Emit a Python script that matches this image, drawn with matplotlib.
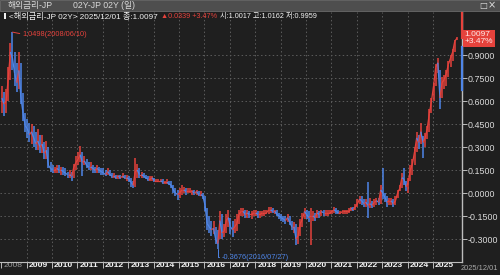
import matplotlib
matplotlib.use('Agg')
import matplotlib.pyplot as plt
import numpy as np
from matplotlib.transforms import ScaledTranslation, blended_transform_factory
from matplotlib.patches import Rectangle
from matplotlib.collections import LineCollection

LAT = ['Liberation Sans', 'DejaVu Sans']
KOR = ['Liberation Sans', 'Noto Sans CJK KR', 'DejaVu Sans']
plt.rcParams['font.family'] = KOR

# ---------------- data (monthly close / high / low, 2008-01 .. 2025-12) -------------
years = list(range(2008, 2026))
x_labels = [str(y) for y in years]
y_ticks = [-0.30, -0.15, 0.0, 0.15, 0.30, 0.45, 0.60, 0.75, 0.90]
y_labels = ['-0.3000', '-0.1500', '0.0000', '0.1500', '0.3000',
            '0.4500', '0.6000', '0.7500', '0.9000']

close = [
    0.62, 0.58, 0.60, 0.75, 0.92, 0.88, 0.78, 0.72, 0.80, 0.62, 0.52, 0.44,            # 2008
    0.42, 0.38, 0.40, 0.36, 0.32, 0.34, 0.30, 0.32, 0.26, 0.28, 0.18, 0.16,            # 2009
    0.15, 0.15, 0.16, 0.15, 0.15, 0.14, 0.13, 0.12, 0.12, 0.11, 0.17, 0.20,            # 2010
    0.22, 0.25, 0.20, 0.21, 0.18, 0.17, 0.17, 0.16, 0.15, 0.16, 0.15, 0.14,            # 2011
    0.13, 0.12, 0.14, 0.12, 0.11, 0.11, 0.10, 0.11, 0.10, 0.11, 0.10, 0.10,            # 2012
    0.09, 0.07, 0.05, 0.14, 0.15, 0.12, 0.12, 0.11, 0.10, 0.09, 0.09, 0.10,            # 2013
    0.08, 0.08, 0.08, 0.08, 0.07, 0.07, 0.07, 0.06, 0.05, 0.02, 0.00, -0.01,           # 2014
    0.00, 0.02, 0.02, 0.01, 0.01, 0.01, 0.01, 0.00, 0.01, -0.01, -0.01, -0.02,         # 2015
    -0.08, -0.20, -0.22, -0.24, -0.23, -0.30, -0.33, -0.18, -0.26, -0.25, -0.18, -0.16,  # 2016
    -0.22, -0.24, -0.22, -0.20, -0.14, -0.12, -0.12, -0.14, -0.13, -0.14, -0.14, -0.13,  # 2017
    -0.13, -0.14, -0.14, -0.13, -0.13, -0.13, -0.11, -0.11, -0.12, -0.12, -0.14, -0.15,  # 2018
    -0.16, -0.17, -0.18, -0.16, -0.19, -0.22, -0.22, -0.30, -0.28, -0.20, -0.17, -0.12,  # 2019
    -0.14, -0.16, -0.15, -0.15, -0.16, -0.13, -0.14, -0.12, -0.13, -0.13, -0.13, -0.13,  # 2020
    -0.12, -0.11, -0.12, -0.13, -0.13, -0.12, -0.12, -0.12, -0.12, -0.10, -0.11, -0.09,  # 2021
    -0.07, -0.04, -0.05, -0.07, -0.06, -0.08, -0.07, -0.08, -0.06, -0.05, -0.06, 0.02,   # 2022
    0.00, -0.03, -0.06, -0.05, -0.05, -0.07, -0.05, 0.00, 0.03, 0.10, 0.09, 0.04,       # 2023
    0.07, 0.15, 0.19, 0.27, 0.36, 0.33, 0.40, 0.33, 0.36, 0.42, 0.52, 0.60,            # 2024
    0.70, 0.82, 0.85, 0.62, 0.72, 0.74, 0.78, 0.84, 0.88, 0.92, 0.99, 1.0097,          # 2025
]
high = [
    0.70, 0.66, 0.68, 0.82, 0.98, 1.0498, 0.92, 0.85, 0.92, 0.85, 0.65, 0.52,
    0.48, 0.46, 0.45, 0.44, 0.40, 0.42, 0.38, 0.38, 0.33, 0.34, 0.30, 0.20,
    0.18, 0.17, 0.18, 0.18, 0.17, 0.17, 0.16, 0.14, 0.15, 0.14, 0.19, 0.24,
    0.27, 0.31, 0.27, 0.24, 0.22, 0.20, 0.20, 0.18, 0.17, 0.18, 0.17, 0.16,
    0.16, 0.15, 0.16, 0.15, 0.13, 0.13, 0.12, 0.12, 0.12, 0.13, 0.12, 0.12,
    0.11, 0.10, 0.08, 0.23, 0.19, 0.16, 0.14, 0.13, 0.12, 0.11, 0.11, 0.11,
    0.10, 0.09, 0.09, 0.09, 0.09, 0.08, 0.09, 0.08, 0.08, 0.05, 0.03, 0.02,
    0.03, 0.05, 0.04, 0.03, 0.03, 0.03, 0.02, 0.02, 0.02, 0.01, 0.01, 0.00,
    -0.02, -0.10, -0.15, -0.18, -0.18, -0.22, -0.24, -0.12, -0.14, -0.20, -0.14, -0.11,
    -0.16, -0.18, -0.17, -0.14, -0.11, -0.10, -0.10, -0.11, -0.11, -0.12, -0.12, -0.11,
    -0.11, -0.12, -0.12, -0.12, -0.11, -0.11, -0.09, -0.09, -0.10, -0.11, -0.11, -0.13,
    -0.14, -0.15, -0.15, -0.14, -0.15, -0.18, -0.19, -0.20, -0.22, -0.17, -0.13, -0.10,
    -0.11, -0.12, -0.10, -0.12, -0.13, -0.11, -0.12, -0.11, -0.11, -0.11, -0.11, -0.11,
    -0.11, -0.09, -0.10, -0.11, -0.12, -0.11, -0.11, -0.11, -0.10, -0.09, -0.09, -0.07,
    -0.04, -0.02, -0.02, -0.04, -0.04, 0.07, -0.03, -0.05, -0.04, -0.03, -0.03, 0.05,
    0.16, 0.00, -0.02, -0.03, -0.03, -0.04, -0.02, 0.02, 0.05, 0.13, 0.16, 0.08,
    0.10, 0.18, 0.22, 0.30, 0.40, 0.38, 0.46, 0.37, 0.39, 0.44, 0.55, 0.62,
    0.72, 0.84, 0.88, 0.80, 0.76, 0.77, 0.80, 0.86, 0.90, 0.94, 1.00, 1.0162,
]
low = [
    0.52, 0.50, 0.52, 0.60, 0.74, 0.80, 0.70, 0.66, 0.68, 0.58, 0.47, 0.40,
    0.36, 0.33, 0.32, 0.30, 0.28, 0.28, 0.26, 0.26, 0.22, 0.22, 0.16, 0.14,
    0.13, 0.13, 0.13, 0.13, 0.12, 0.12, 0.11, 0.10, 0.10, 0.08, 0.10, 0.15,
    0.18, 0.20, 0.11, 0.18, 0.16, 0.15, 0.15, 0.13, 0.13, 0.13, 0.13, 0.12,
    0.12, 0.11, 0.12, 0.11, 0.10, 0.10, 0.09, 0.09, 0.09, 0.10, 0.09, 0.08,
    0.07, 0.04, 0.03, 0.04, 0.10, 0.10, 0.10, 0.10, 0.09, 0.08, 0.08, 0.08,
    0.07, 0.07, 0.07, 0.07, 0.06, 0.06, 0.06, 0.05, 0.03, 0.00, -0.02, -0.045,
    -0.03, -0.01, 0.00, -0.01, 0.00, 0.00, -0.01, -0.01, -0.01, -0.02, -0.02, -0.04,
    -0.12, -0.24, -0.26, -0.28, -0.27, -0.33, -0.3676, -0.30, -0.30, -0.29, -0.26, -0.22,
    -0.27, -0.29, -0.26, -0.25, -0.20, -0.15, -0.15, -0.16, -0.16, -0.16, -0.17, -0.15,
    -0.15, -0.16, -0.16, -0.15, -0.15, -0.14, -0.14, -0.13, -0.13, -0.14, -0.15, -0.17,
    -0.18, -0.19, -0.20, -0.19, -0.21, -0.24, -0.26, -0.34, -0.33, -0.28, -0.22, -0.17,
    -0.17, -0.19, -0.34, -0.18, -0.18, -0.16, -0.16, -0.15, -0.15, -0.15, -0.15, -0.14,
    -0.14, -0.13, -0.14, -0.14, -0.14, -0.14, -0.14, -0.14, -0.13, -0.12, -0.12, -0.11,
    -0.09, -0.07, -0.08, -0.09, -0.09, -0.16, -0.10, -0.10, -0.09, -0.08, -0.08, -0.07,
    -0.04, -0.06, -0.09, -0.08, -0.08, -0.09, -0.08, -0.03, 0.01, 0.03, 0.05, 0.01,
    0.00, 0.08, 0.12, 0.18, 0.27, 0.29, 0.32, 0.23, 0.30, 0.35, 0.40, 0.52,
    0.60, 0.70, 0.78, 0.55, 0.62, 0.68, 0.70, 0.76, 0.82, 0.86, 0.92, 0.9959,
]

peak_value, peak_label = 1.0498, '1.0498(2008/06/10)'
trough_value, trough_label = -0.3676, '-0.3676(2016/07/27)'
last_value, last_change = 1.0097, '+3.47%'
axis_band = [0.672, 0.952]

title_left = '해외금리-JP'
title_mid = '02Y-JP 02Y (일)'
info_white1 = '<해외금리-JP 02Y> 2025/12/01 종:1.0097'
info_red = '▲0.0339 +3.47%'
info_white2 = '시:1.0017 고:1.0162 저:0.9959'
date_label = '2025/12/01'

# ---------------- style ----------------
BG = '#1f1f1f'
RED = '#e5423c'
BLUE = '#4f86e8'
GRID = '#5c5c5c'
AX = '#bdbdbd'

W, H = 500, 275
fig = plt.figure(figsize=(5, 2.75), dpi=100, facecolor=BG)
ax = fig.add_axes([0, 13 / H, 462 / W, 250 / H])
ax.set_facecolor(BG)

t = 2008 + (np.arange(len(close)) + 0.3) / 12.0
c = np.array(close); hi = np.array(high); lo = np.array(low)
prev = np.concatenate([[c[0]], c[:-1]])
up = c >= prev
cols = np.where(up, RED, BLUE)

ax.vlines(t, lo, hi, colors=cols, lw=1.1, zorder=3)
pts = np.column_stack([t, c])
segs = np.stack([pts[:-1], pts[1:]], axis=1)
ax.add_collection(LineCollection(segs, colors=cols[1:], lw=0.9, zorder=4))

ax.set_xlim(2007.95, 2026.144)
ax.set_ylim(-0.450, 1.181)

# grid
for yv in y_ticks:
    ax.axhline(yv, color=GRID, lw=0.7, ls=(0, (1.5, 2.5)), zorder=1)
for xv in years[1:]:
    ax.axvline(xv, color=GRID, lw=0.7, ls=(0, (1.5, 2.5)), zorder=1)

# spines
for s in ['left', 'top']:
    ax.spines[s].set_visible(False)
ax.spines['right'].set_color(AX)
ax.spines['bottom'].set_color(AX)
ax.spines['right'].set_linewidth(1.0)
ax.spines['bottom'].set_linewidth(0.8)

# y axis on right
ax.yaxis.tick_right()
ax.set_yticks(y_ticks)
ax.set_yticklabels(y_labels, family=LAT)
ax.tick_params(axis='y', colors=AX, length=3.5, width=0.7, pad=0.5, labelsize=6.4,
               labelcolor='#dadada')

# x axis
ax.set_xticks(years)
ax.set_xticklabels(x_labels, family=LAT)
ax.tick_params(axis='x', colors=AX, length=4, width=0.7, pad=-4, labelsize=6.1,
               labelcolor='#f6f6f6')
off = ScaledTranslation(2 / 100, 0, fig.dpi_scale_trans)
for i, lab in enumerate(ax.get_xticklabels()):
    lab.set_horizontalalignment('left')
    lab.set_transform(lab.get_transform() + off)
    lab.set_fontweight('bold')
    if i == 0:
        lab.set_color('#9a9a9a')
        lab.set_fontweight('normal')

# annotations
ax.annotate(peak_label, xy=(t[int(np.argmax(hi))], peak_value),
            xytext=(10, -2), textcoords='offset pixels', color=RED, fontsize=5.3,
            va='center', ha='left', family=LAT,
            arrowprops=dict(arrowstyle='-', color=RED, lw=0.7, shrinkA=0, shrinkB=0,
                            relpos=(0, 0.5)))
ax.annotate(trough_label, xy=(t[int(np.argmin(lo))], trough_value),
            xytext=(4, -8), textcoords='offset pixels', color=BLUE, fontsize=5.3,
            va='center', ha='left', family=LAT,
            arrowprops=dict(arrowstyle='-', color=BLUE, lw=0.7, shrinkA=0, shrinkB=0,
                            relpos=(0, 0.5),
                            connectionstyle='angle,angleA=0,angleB=90,rad=0'))

# right-axis price marker
bt = blended_transform_factory(ax.transAxes, ax.transData)
ax.plot([1, 1], [last_value, ax.get_ylim()[1]], color=RED, lw=1.6, transform=bt,
        clip_on=False, zorder=6)
ax.plot([1, 1], axis_band, color=BLUE, lw=1.6, transform=bt, clip_on=False, zorder=6)
ax.text(1.006, last_value, '1.0097\n' + last_change, transform=bt, color='#ffe8e8',
        fontsize=6.0, va='center', ha='left', linespacing=0.95, family=LAT,
        bbox=dict(boxstyle='square,pad=0.2', fc=RED, ec='none'), zorder=7, clip_on=False)

# date label bottom right
fig.text(461 / W, 1 - 268.5 / H, date_label, color='#a8a8a8', fontsize=5.4,
         va='center', ha='left', family=LAT)

# title bar
fig.patches.append(Rectangle((0, 1 - 11 / H), 1, 11 / H, transform=fig.transFigure,
                             fc='#4e4e4e', ec='#6a6a6a', lw=0.6, zorder=0))
fig.text(8 / W, 1 - 5.5 / H, title_left, color='#d8d8d8', fontsize=6.3, va='center',
         ha='left')
fig.text(73 / W, 1 - 5.5 / H, title_mid, color='#d8d8d8', fontsize=6.3, va='center',
         ha='left')
fig.text(479 / W, 1 - 5.5 / H, '□', color='#e0e0e0', fontsize=6.0, va='center',
         ha='left', family=['DejaVu Sans'])
fig.text(488 / W, 1 - 5.5 / H, '×', color='#e0e0e0', fontsize=7.0, va='center',
         ha='left', family=['DejaVu Sans'])

# info line (segments placed one after another)
fig.patches.append(Rectangle((4 / W, 1 - 19 / H), 2 / W, 6 / H, transform=fig.transFigure,
                             fc='#f0f0f0', ec='none', zorder=5))
renderer = fig.canvas.get_renderer()
x_pos = 9
for txt, col, min_x, fs in [(info_white1, '#f2f2f2', 9, 5.9), (info_red, RED, 150, 5.2),
                            (info_white2, '#f2f2f2', 208, 5.2)]:
    x_pos = max(x_pos, min_x)
    tt = fig.text(x_pos / W, 1 - 16.5 / H, txt, color=col, fontsize=fs, va='center',
                  ha='left', family=['Liberation Sans', 'Noto Sans CJK KR', 'DejaVu Sans'])
    bb = tt.get_window_extent(renderer)
    x_pos = bb.x1 + 3

fig.savefig('out.png', dpi=100, facecolor=BG)
